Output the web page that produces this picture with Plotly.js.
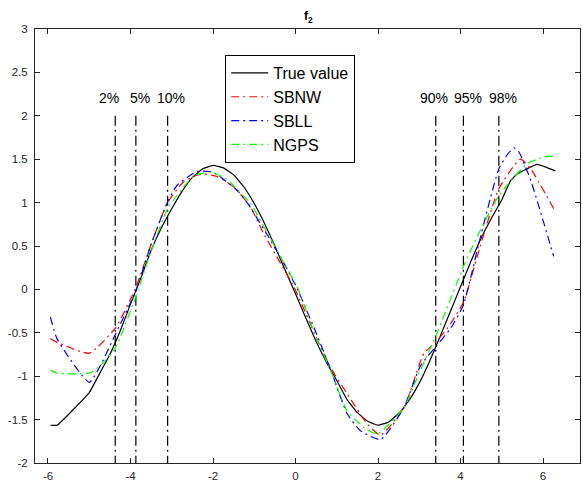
<!DOCTYPE html>
<html>
<head>
<meta charset="utf-8">
<script src="https://cdn.plot.ly/plotly-3.0.1.min.js"></script>
<style>html,body{margin:0;padding:0;background:#fff;}#plot{width:583px;height:483px;}</style>
</head>
<body>
<div id="plot"></div>
<script>
// True value
var xTrue = [-5.94, -5.78, -5.0, -4.75, -4.5, -4.25, -4.0, -3.75, -3.5, -3.25, -3.0, -2.75, -2.5, -2.25, -2.0, -1.75, -1.5, -1.25, -1.0, -0.75, -0.5, -0.25, 0.0, 0.25, 0.5, 0.75, 1.0, 1.25, 1.5, 1.75, 2.0, 2.25, 2.5, 2.75, 3.0, 3.25, 3.5, 3.75, 4.0, 4.25, 4.5, 4.75, 5.0, 5.21, 5.37, 5.86, 6.3];
var yTrue = [-1.565, -1.565, -1.19, -0.97, -0.75, -0.48, -0.17, 0.13, 0.45, 0.71, 0.93, 1.13, 1.29, 1.39, 1.43, 1.40, 1.32, 1.18, 0.99, 0.76, 0.50, 0.22, -0.05, -0.33, -0.60, -0.84, -1.05, -1.27, -1.42, -1.52, -1.565, -1.53, -1.43, -1.28, -1.08, -0.83, -0.55, -0.26, 0.03, 0.32, 0.59, 0.82, 1.03, 1.25, 1.33, 1.44, 1.365];
// SBNW
var xSBNW = [-5.94, -5.78, -5.0, -4.36, -3.88, -3.5, -3.1, -2.71, -2.30, -1.90, -1.50, -1.09, -0.77, -0.36, -0.04, 0.5, 0.85, 1.25, 1.74, 2.06, 2.63, 3.11, 3.39, 3.68, 4.07, 4.48, 4.93, 5.45, 5.70, 6.26];
var ySBNW = [-0.565, -0.61, -0.735, -0.44, 0.01, 0.52, 1.0, 1.24, 1.33, 1.30, 1.18, 0.95, 0.64, 0.30, 0.03, -0.55, -0.90, -1.20, -1.55, -1.68, -1.36, -0.74, -0.61, -0.45, -0.15, 0.50, 1.16, 1.50, 1.39, 0.93];
// SBLL
var xSBLL = [-5.94, -5.78, -5.0, -4.69, -4.36, -3.88, -3.5, -3.1, -2.87, -2.38, -2.0, -1.41, -1.13, -0.61, -0.28, 0.04, 0.5, 0.85, 1.25, 1.58, 2.06, 2.63, 3.03, 3.39, 3.76, 4.07, 4.44, 4.73, 4.93, 5.13, 5.3, 5.42, 5.70, 6.26];
var ySBLL = [-0.32, -0.57, -1.07, -0.84, -0.51, -0.03, 0.52, 1.01, 1.20, 1.36, 1.35, 1.14, 0.97, 0.57, 0.30, 0.01, -0.50, -0.92, -1.43, -1.63, -1.73, -1.36, -0.88, -0.665, -0.45, -0.18, 0.52, 1.06, 1.39, 1.55, 1.63, 1.58, 1.26, 0.38];
// NGPS
var xNGPS = [-5.94, -5.78, -5.0, -4.69, -4.36, -3.88, -3.5, -3.1, -2.46, -2.06, -1.66, -1.37, -1.09, -0.61, -0.3, 0.04, 0.5, 0.85, 1.25, 1.66, 1.98, 2.63, 3.0, 3.39, 4.07, 4.36, 4.93, 5.62, 6.06, 6.26];
var yNGPS = [-0.93, -0.965, -0.965, -0.86, -0.67, -0.09, 0.44, 0.93, 1.31, 1.35, 1.27, 1.13, 0.99, 0.59, 0.32, 0.03, -0.56, -0.93, -1.40, -1.59, -1.665, -1.36, -0.96, -0.55, 0.26, 0.565, 1.08, 1.45, 1.53, 1.535];
// Percentile markers
var pctX = [-4.37, -3.87, -3.10, 3.40, 4.07, 4.93];
var pctLabels = ['2%', '5%', '10%', '90%', '95%', '98%'];
var pctLabelX = [-4.53, -3.76, -3.01, 3.35, 4.19, 5.03];
var pctTop = 2, pctBottom = -2, pctLabelY = 2.2;
// Ticks
var xTickVals = [-6, -4, -2, 0, 2, 4, 6];
var xTickText = ['-6', '-4', '-2', '0', '2', '4', '6'];
var yTickVals = [-2, -1.5, -1, -0.5, 0, 0.5, 1, 1.5, 2, 2.5, 3];
var yTickText = ['-2', '-1.5', '-1', '-0.5', '0', '0.5', '1', '1.5', '2', '2.5', '3'];

var dd = '8px,4px,2px,4px';
var FONT = 'Liberation Sans, Arial, sans-serif';
var traces = [];
pctX.forEach(function (v) {
  traces.push({x: [v, v], y: [pctTop, pctBottom], mode: 'lines', showlegend: false, hoverinfo: 'skip',
    line: {color: '#000', width: 1.2, dash: '10px,4px,2px,4px'}});
});
traces.push({x: xTrue, y: yTrue, name: 'True value', mode: 'lines', line: {color: '#000000', width: 1.2, shape: 'spline', smoothing: 0.3}});
traces.push({x: xSBNW, y: ySBNW, name: 'SBNW', mode: 'lines', line: {color: '#ff0000', width: 1.2, dash: dd, shape: 'spline', smoothing: 0.5}});
traces.push({x: xSBLL, y: ySBLL, name: 'SBLL', mode: 'lines', line: {color: '#0000ff', width: 1.2, dash: dd, shape: 'spline', smoothing: 0.5}});
traces.push({x: xNGPS, y: yNGPS, name: 'NGPS', mode: 'lines', line: {color: '#00ff00', width: 1.2, dash: dd, shape: 'spline', smoothing: 0.5}});

var annotations = pctLabels.map(function (t, i) {
  return {x: pctLabelX[i], y: pctLabelY, xref: 'x', yref: 'y', text: t, showarrow: false,
    font: {family: FONT, size: 14, color: '#000'}, xanchor: 'center', yanchor: 'middle'};
});

var axisCommon = {
  showline: true, linecolor: '#262626', linewidth: 1, mirror: 'ticks', ticks: 'inside', ticklen: 5,
  tickcolor: '#262626', showgrid: false, zeroline: false, tickmode: 'array',
  tickfont: {family: FONT, size: 11.5, color: '#262626'}
};

var layout = {
  width: 583, height: 483,
  margin: {l: 35, r: 3, t: 29, b: 20},
  paper_bgcolor: '#fff', plot_bgcolor: '#fff',
  title: {text: '<b>f<sub>2</sub></b>', x: 0.529, xref: 'container', y: 0.967, yref: 'container', yanchor: 'middle',
    font: {family: FONT, size: 12, color: '#000'}},
  xaxis: Object.assign({}, axisCommon, {range: [-6.315, 6.897], tickvals: xTickVals, ticktext: xTickText, ticklabelstandoff: 2}),
  yaxis: Object.assign({}, axisCommon, {range: [-2, 3], tickvals: yTickVals, ticktext: yTickText, ticklabelstandoff: 4}),
  showlegend: true,
  legend: {x: 0.349, y: 0.94, xanchor: 'left', yanchor: 'top', bgcolor: '#fff', bordercolor: '#000', borderwidth: 1,
    itemwidth: 37, font: {family: FONT, size: 16, color: '#000'}, tracegroupgap: 0},
  annotations: annotations
};

Plotly.newPlot('plot', traces, layout, {displayModeBar: false, staticPlot: true});
</script>
</body>
</html>
